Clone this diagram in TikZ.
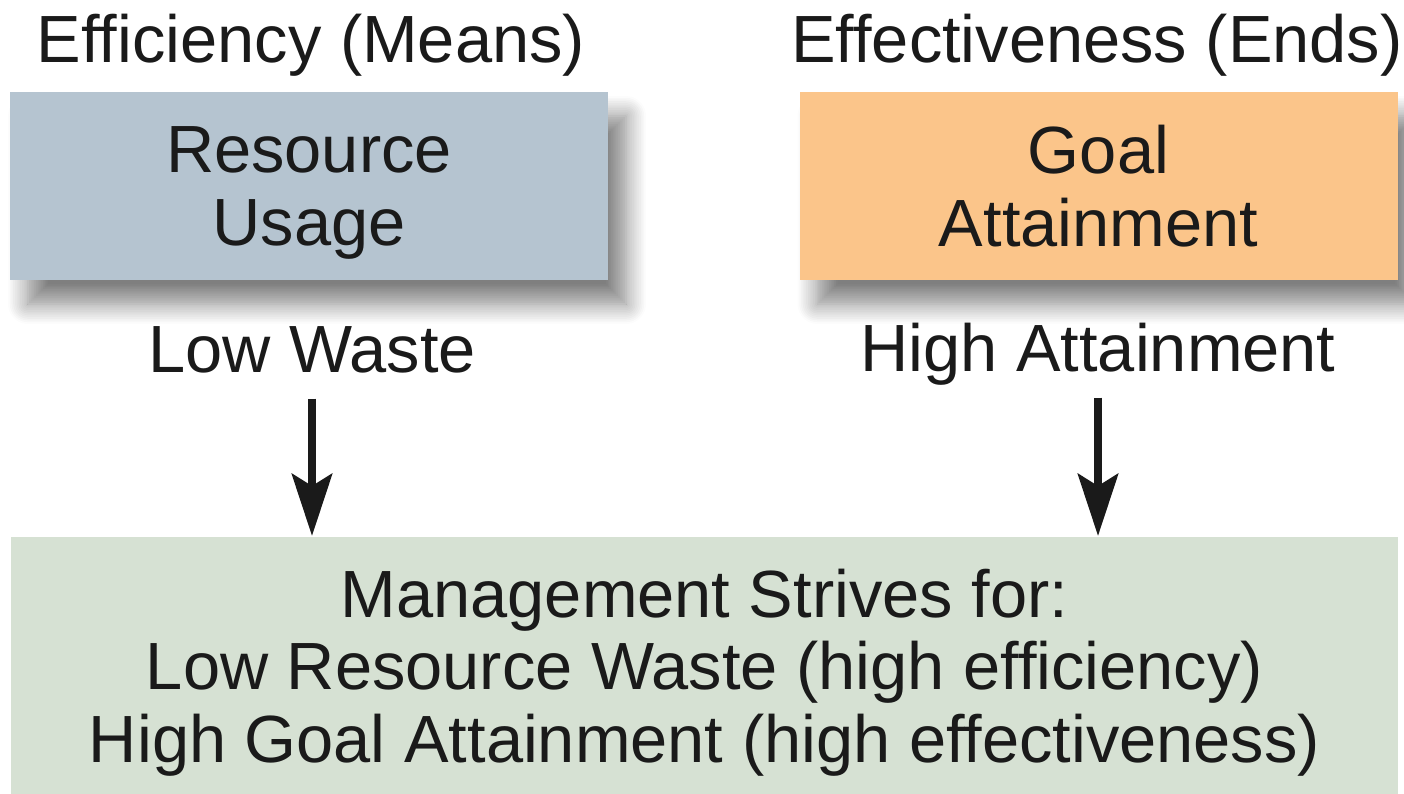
\documentclass[tikz,border=0pt]{standalone}
\usepackage{fontspec}
\setmainfont{Liberation Sans}
\usetikzlibrary{positioning,shadows.blur,arrows.meta}

\definecolor{boxblue}{HTML}{B5C4D0}
\definecolor{boxorange}{HTML}{FBC58A}
\definecolor{boxgreen}{HTML}{D6E1D3}
\definecolor{inchiostro}{HTML}{1A1A1A}

\begin{document}
\begin{tikzpicture}[
    etichetta/.style={font=\fontsize{19}{20.7}\selectfont, text=inchiostro, align=center},
    scatola/.style={etichetta, minimum width=5.98cm, minimum height=1.88cm, inner sep=0pt, text depth=0pt,
        blur shadow={shadow xshift=0.18cm, shadow yshift=-0.24cm, shadow blur radius=0.2cm, shadow blur steps=12, shadow opacity=50}},
    freccia/.style={-{Stealth[length=0.62cm, width=0.4cm, inset=0.12cm]}, line width=2.5pt, draw=inchiostro}
]
    \useasboundingbox (0,0) rectangle (14.04,-7.93);

    % Titoli
    \node[etichetta, anchor=base] (effic) at (3.11,-0.62) {Efficiency (Means)};
    \node[etichetta, anchor=base] (effect) at (10.97,-0.62) {Effectiveness (Ends)};

    % Scatole superiori
    \node[scatola, fill=boxblue] (usage) at (3.09,-1.86) {Resource\\Usage};
    \node[scatola, fill=boxorange] (goal) at (10.985,-1.86) {Goal\\Attainment};

    % Etichette sotto le scatole
    \node[etichetta, anchor=base, text depth=0.1cm, inner sep=0.16cm] (lowWaste) at (3.12,-3.72) {Low Waste};
    \node[etichetta, anchor=base, text depth=0.1cm, inner sep=0.16cm] (highAtt) at (10.98,-3.71) {High Attainment};

    % Scatola in basso
    \node[etichetta, fill=boxgreen, anchor=north, minimum width=13.87cm, minimum height=2.72cm] (mgmt) at (7.045,-5.36)
        {Management Strives for:\\Low Resource Waste (high efficiency)\\High Goal Attainment (high effectiveness)};

    % Frecce
    \draw[freccia] (lowWaste) -- (lowWaste |- mgmt.north);
    \draw[freccia] (highAtt) -- (highAtt |- mgmt.north);

\end{tikzpicture}
\end{document}
